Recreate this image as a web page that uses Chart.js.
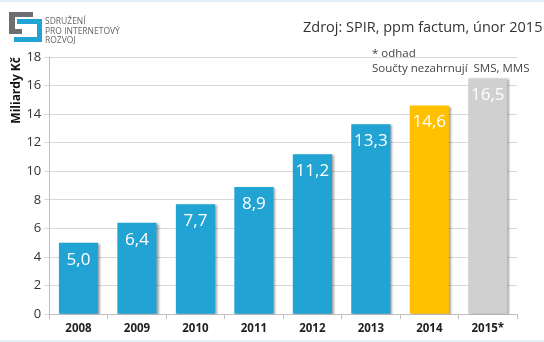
<!DOCTYPE html>
<html>
<head>
<meta charset="utf-8">
<script src="https://cdn.jsdelivr.net/npm/chart.js@4.4.1/dist/chart.umd.min.js"></script>
<style>
  html, body { margin: 0; padding: 0; background: #fff; }
  #wrap { position: relative; width: 544px; height: 342px; overflow: hidden;
          border-top: 2px solid #e3f0f8; border-bottom: 2px solid #e3f0f8; box-sizing: border-box; }
  #graf { position: absolute; left: 0; top: 0; }
  .txt { position: absolute; font-family: 'Open Sans', sans-serif; color: #333; white-space: nowrap; }
  #logo { position: absolute; left: 0; top: 0; }
</style>
</head>
<body>
<div id="wrap">
  <canvas id="graf" width="544" height="338"></canvas>
  <canvas id="logo" width="50" height="45"></canvas>
  <div class="txt" style="left:45px; top:14px; font-size:8.5px; line-height:9.5px; color:#666;">SDRUŽENÍ<br>PRO INTERNETOVÝ<br>ROZVOJ</div>
  <div class="txt" style="left:303px; top:15px; font-size:14.5px;">Zdroj: SPIR, ppm factum, únor 2015</div>
  <div class="txt" style="left:372px; top:43px; font-size:11.5px; color:#444;">* odhad</div>
  <div class="txt" style="left:372px; top:58px; font-size:11.5px; color:#444;">Součty nezahrnují&nbsp; SMS, MMS</div>
</div>
<script>
// Data grafu
const roky = ['2008', '2009', '2010', '2011', '2012', '2013', '2014', '2015*'];
const hodnoty = [5.0, 6.4, 7.7, 8.9, 11.2, 13.3, 14.6, 16.5];
const barvy = ['#21a3d3', '#21a3d3', '#21a3d3', '#21a3d3', '#21a3d3', '#21a3d3', '#ffc000', '#d0d0d0'];
const osaY = [0, 2, 4, 6, 8, 10, 12, 14, 16, 18];

// Logo
const lc = document.getElementById('logo').getContext('2d');
lc.fillStyle = '#6d6e71';
lc.fillRect(9, 10, 24, 5);
lc.fillRect(9, 10, 6, 22);
lc.fillRect(9, 27, 13, 5);
lc.fillStyle = '#21a3d3';
lc.fillRect(17, 17, 25, 5);
lc.fillRect(37, 17, 5, 23);
lc.fillRect(14, 35, 28, 5);

// Stin pod sloupci
const stin = {
    id: 'stin',
    beforeDatasetsDraw(chart) {
        const c = chart.ctx;
        c.save();
        c.shadowColor = 'rgba(0,0,0,0.35)';
        c.shadowOffsetX = 2;
        c.shadowOffsetY = 1;
        c.shadowBlur = 2;
    },
    afterDatasetsDraw(chart) {
        chart.ctx.restore();
    }
};

// Popisky uvnitr sloupcu
const popisky = {
    id: 'popisky',
    afterDatasetsDraw(chart) {
        const c = chart.ctx;
        const meta = chart.getDatasetMeta(0);
        c.save();
        c.fillStyle = '#fff';
        c.font = '17px "Open Sans", sans-serif';
        c.textAlign = 'center';
        c.textBaseline = 'middle';
        meta.data.forEach((bar, i) => {
            c.fillText(hodnoty[i].toFixed(1).replace('.', ','), bar.x, bar.y + 17);
        });
        c.restore();
    }
};

const ctx = document.getElementById('graf').getContext('2d');
new Chart(ctx, {
    type: 'bar',
    data: {
        labels: roky,
        datasets: [{
            data: hodnoty,
            backgroundColor: barvy,
            borderWidth: 0,
            barPercentage: 0.67,
            categoryPercentage: 1.0
        }]
    },
    options: {
        responsive: false,
        animation: false,
        layout: { padding: { left: 3, right: 27, top: 55, bottom: 1 } },
        plugins: { legend: { display: false }, tooltip: { enabled: false } },
        scales: {
            x: {
                grid: { drawOnChartArea: false, drawTicks: true, tickLength: 5, color: '#bfbfbf', offset: true },
                border: { color: '#bfbfbf' },
                ticks: { color: '#222', font: { family: 'Open Sans', size: 11.5, weight: 'bold' }, padding: 3 }
            },
            y: {
                min: 0, max: 18,
                afterBuildTicks(axis) { axis.ticks = osaY.map(v => ({ value: v })); },
                grid: { color: '#d9d9d9', tickLength: 5 },
                border: { color: '#bfbfbf' },
                ticks: { color: '#333', font: { family: 'Open Sans', size: 13 }, padding: 3 },
                title: { display: true, text: 'Miliardy Kč', align: 'end', color: '#111',
                         font: { family: 'Open Sans', size: 12, weight: 'bold' }, padding: { top: 6, bottom: 0 } }
            }
        }
    },
    plugins: [stin, popisky]
});
</script>
</body>
</html>
